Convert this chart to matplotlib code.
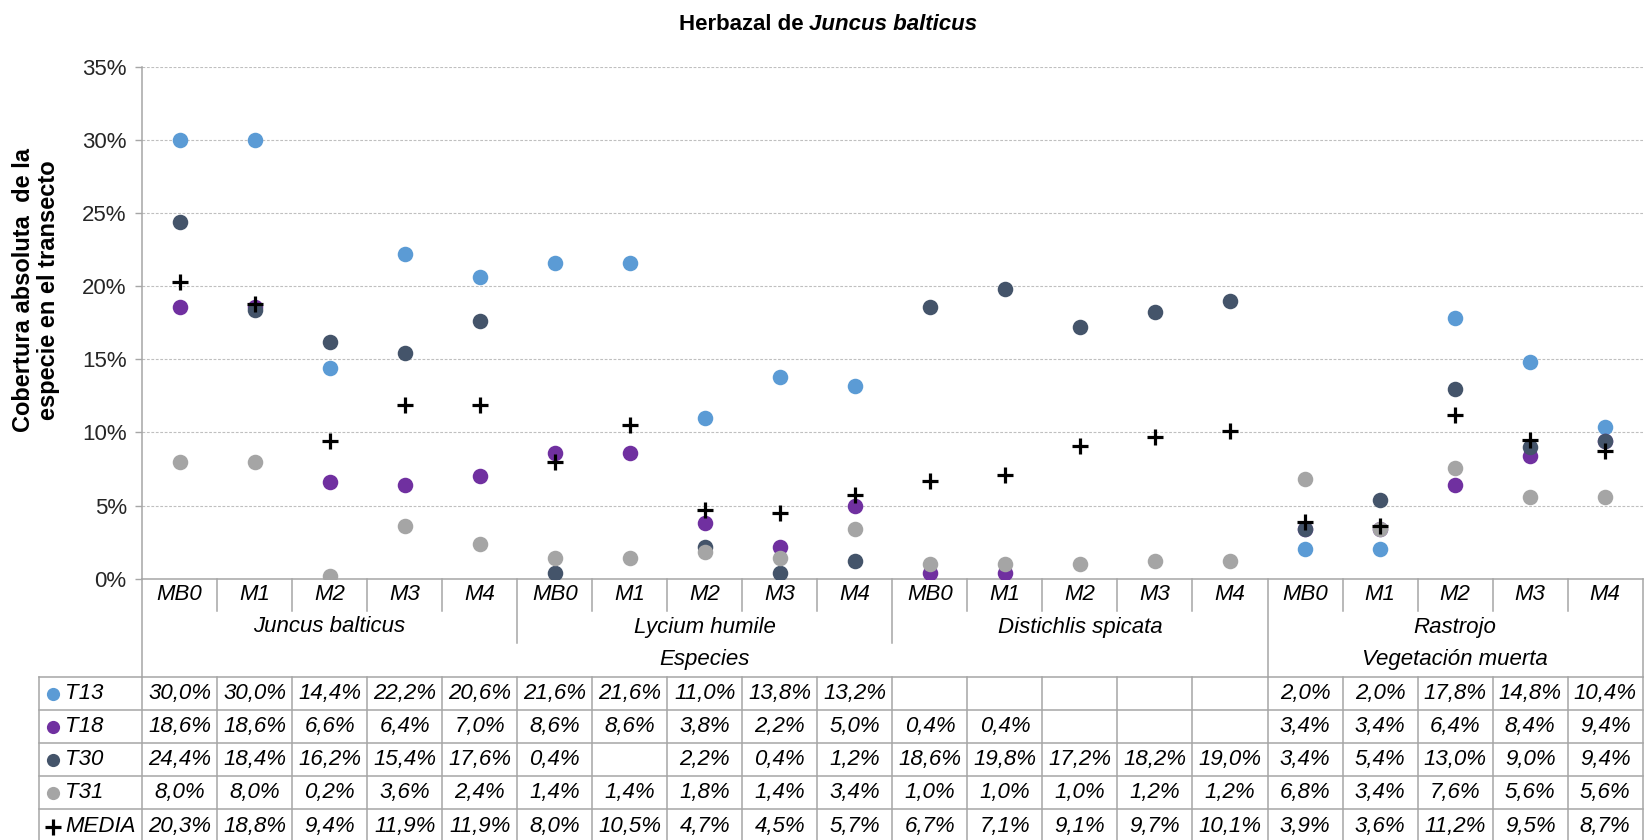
import matplotlib
matplotlib.use("Agg")
import matplotlib.pyplot as plt
from matplotlib.lines import Line2D
from matplotlib.transforms import blended_transform_factory

plt.rcParams['font.family'] = ['Liberation Sans', 'DejaVu Sans']

# datos (% cobertura), None = sin dato
muestreos = ['MB0', 'M1', 'M2', 'M3', 'M4'] * 4
grupos = ['Juncus balticus', 'Lycium humile', 'Distichlis spicata', 'Rastrojo']
tipos = ['Especies', 'Vegetación muerta']
tipo_span = [(0, 15), (15, 20)]

series = ['T13', 'T18', 'T30', 'T31']
colores = ['#5B9BD5', '#7030A0', '#44546A', '#A5A5A5']
T13 = [30.0, 30.0, 14.4, 22.2, 20.6, 21.6, 21.6, 11.0, 13.8, 13.2,
       None, None, None, None, None, 2.0, 2.0, 17.8, 14.8, 10.4]
T18 = [18.6, 18.6, 6.6, 6.4, 7.0, 8.6, 8.6, 3.8, 2.2, 5.0,
       0.4, 0.4, None, None, None, 3.4, 3.4, 6.4, 8.4, 9.4]
T30 = [24.4, 18.4, 16.2, 15.4, 17.6, 0.4, None, 2.2, 0.4, 1.2,
       18.6, 19.8, 17.2, 18.2, 19.0, 3.4, 5.4, 13.0, 9.0, 9.4]
T31 = [8.0, 8.0, 0.2, 3.6, 2.4, 1.4, 1.4, 1.8, 1.4, 3.4,
       1.0, 1.0, 1.0, 1.2, 1.2, 6.8, 3.4, 7.6, 5.6, 5.6]
MEDIA = [20.3, 18.8, 9.4, 11.9, 11.9, 8.0, 10.5, 4.7, 4.5, 5.7,
         6.7, 7.1, 9.1, 9.7, 10.1, 3.9, 3.6, 11.2, 9.5, 8.7]
valores = [T13, T18, T30, T31]

W, H = 1644, 840
fig = plt.figure(figsize=(W / 100, H / 100), dpi=100)
# eje en pixeles: x 142..1642.7, y 66.7..578.7
AX_L, AX_R, AX_T, AX_B = 142.0, 1642.7, 66.7, 578.7
ax = fig.add_axes([AX_L / W, (H - AX_B) / H, (AX_R - AX_L) / W, (AX_B - AX_T) / H])

n = len(muestreos)
for vals, col in zip(valores, colores):
    xs = [i for i, v in enumerate(vals) if v is not None]
    ys = [v / 100 for v in vals if v is not None]
    ax.scatter(xs, ys, s=125, color=col, zorder=3, linewidths=0)
ax.plot(range(n), [v / 100 for v in MEDIA], linestyle='none', marker='+',
        markersize=11, mew=2.3, color='black', zorder=4)

ax.set_xlim(-0.5, n - 0.5)
ax.set_ylim(0, 0.35)
ax.set_yticks([i * 0.05 for i in range(8)])
ax.set_yticklabels([f'{i * 5}%' for i in range(8)], fontsize=16, color='#262626')
ax.set_xticks([])
ax.tick_params(axis='y', length=5, color='#A6A6A6', width=1, pad=6)
for g in ax.get_yticks()[1:]:
    ax.axhline(g, color='#BFBFBF', lw=0.8, linestyle=(0, (2.5, 1.5)), zorder=1)
for s in ['top', 'right']:
    ax.spines[s].set_visible(False)
for s in ['left', 'bottom']:
    ax.spines[s].set_color('#A6A6A6')
    ax.spines[s].set_linewidth(1.1)

# tabla y ejes de categorias debajo
tr = blended_transform_factory(ax.transData, ax.transAxes)


def ya(p):
    return (AX_B - p) / (AX_B - AX_T)


LEG_L = -0.5 - (AX_L - 39) / 75.0
RIGHT = n - 0.5
gris = '#A6A6A6'


def linea(x0, x1, y0, y1):
    ax.add_line(Line2D([x0, x1], [ya(y0), ya(y1)], transform=tr, color=gris,
                       lw=1.1, clip_on=False))


row_cat, row_grp, row_tipo = 611, 643, 677
filas = [677, 710, 743, 776, 809, 842]

linea(-0.5, -0.5, AX_B, row_tipo)
linea(RIGHT, RIGHT, AX_B, row_tipo)
for i in range(1, n):
    fin = row_cat
    if i % 5 == 0:
        fin = row_grp
    if i == tipo_span[1][0]:
        fin = row_tipo
    linea(i - 0.5, i - 0.5, AX_B, fin)
for y in filas[:-1]:
    linea(LEG_L, RIGHT, y, y)
for i in range(n + 1):
    linea(i - 0.5, i - 0.5, row_tipo, 840)
linea(LEG_L, LEG_L, row_tipo, 840)

fs = 16
for i, m in enumerate(muestreos):
    ax.text(i, ya(595), m, transform=tr, ha='center', va='center',
            fontsize=fs, style='italic')
for k, g in enumerate(grupos):
    ax.text(k * 5 + 2, ya(627), g, transform=tr, ha='center', va='center',
            fontsize=fs, style='italic')
for t, (a, b) in zip(tipos, tipo_span):
    ax.text((a + b - 1) / 2, ya(660), t, transform=tr, ha='center', va='center',
            fontsize=fs, style='italic')


def fmt(v):
    return '' if v is None else f'{v:.1f}%'.replace('.', ',')


nombres = series + ['MEDIA']
for r, (nom, vals) in enumerate(zip(nombres, valores + [MEDIA])):
    yc = (filas[r] + filas[r + 1]) / 2 if r < 4 else (filas[r] + 840) / 2 + 2
    for i, v in enumerate(vals):
        ax.text(i, ya(yc), fmt(v), transform=tr, ha='center', va='center',
                fontsize=fs, style='italic')
    xk = LEG_L + (53 - 39) / 75.0
    if r < 4:
        ax.plot([xk], [ya(yc)], transform=tr, marker='o', markersize=9.5,
                color=colores[r], mew=0, clip_on=False)
    else:
        ax.plot([xk], [ya(yc)], transform=tr, marker='+', markersize=11,
                mew=2.3, color='black', clip_on=False)
    ax.text(LEG_L + (65 - 39) / 75.0, ya(yc), nom, transform=tr, ha='left',
            va='center', fontsize=fs, style='italic')

fig.text(36 / W, 1 - 290 / H, 'Cobertura absoluta  de la\nespecie en el transecto',
         rotation=90, ha='center', va='center', fontsize=17, fontweight='bold',
         multialignment='center', linespacing=1.12)

# titulo con parte en cursiva
r = fig.canvas.get_renderer()
t1 = fig.text(0, 1 - 24 / H, 'Herbazal de ', fontsize=16, fontweight='bold',
              ha='left', va='center')
t2 = fig.text(0, 1 - 24 / H, 'Juncus balticus', fontsize=16, fontweight='bold',
              style='italic', ha='left', va='center')
w1 = t1.get_window_extent(r).width
w2 = t2.get_window_extent(r).width
x0 = 828 - (w1 + w2) / 2
t1.set_x(x0 / W)
t2.set_x((x0 + w1) / W)

fig.savefig('out.png', dpi=100)
